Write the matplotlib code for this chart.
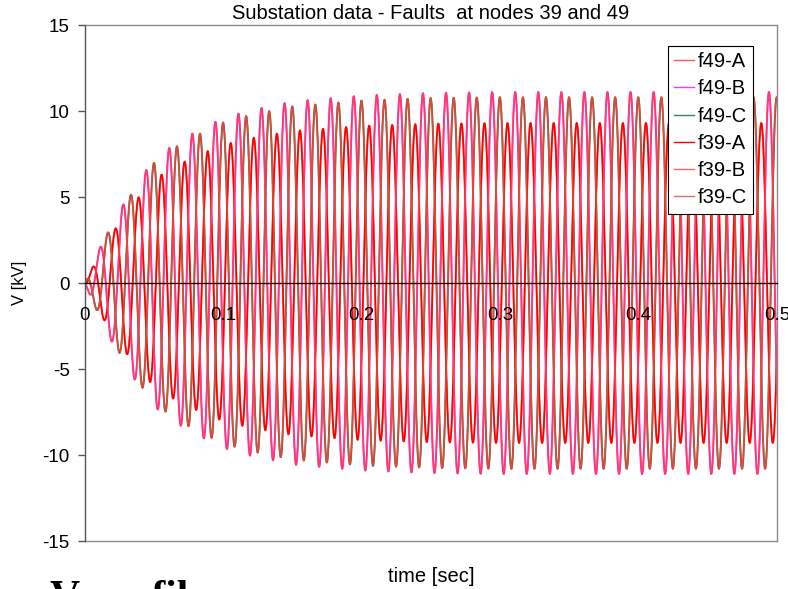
import numpy as np
import matplotlib
matplotlib.use("Agg")
import matplotlib.pyplot as plt

plt.rcParams["font.family"] = ["Liberation Sans", "DejaVu Sans"]

# values
env_time = [0.0, 0.005, 0.010, 0.015, 0.020, 0.030, 0.040, 0.050, 0.065,
            0.080, 0.100, 0.120, 0.150, 0.200, 0.250, 0.300, 0.500]
env_kv = [0.0, 1.0, 1.9, 2.8, 3.5, 4.9, 6.1, 7.2, 8.1,
          8.8, 9.6, 10.05, 10.55, 10.9, 11.05, 11.1, 11.1]
peak_kv = {"A": 9.3, "B": 11.1, "C": 10.8}      # steady state peak per phase
phase_deg = {"A": 0.0, "B": -120.0, "C": 120.0}
freq_hz = 60.0
first_peak_s = 0.0053                            # first peak of phase A

series_names = ["f49-A", "f49-B", "f49-C", "f39-A", "f39-B", "f39-C"]
series_colors = ["#f25f5c", "#ff33ff", "#2e8b57", "#ff0000", "#ff3d5e", "#e8443a"]
series_lw = [1.4, 1.4, 1.4, 1.15, 1.15, 1.15]
legend_colors = ["#f25f5c", "#ff33ff", "#2e8b57", "#ff0000", "#f06868", "#e06a66"]

x_ticks = [0, 0.1, 0.2, 0.3, 0.4, 0.5]
x_tick_labels = ["0", "0.1", "0.2", "0.3", "0.4", "0.5"]
y_ticks = [-15, -10, -5, 0, 5, 10, 15]

t = np.arange(0, 0.5 + 1e-9, 0.0001)
env = np.interp(t, env_time, env_kv) / max(env_kv)

fig = plt.figure(figsize=(7.88, 5.89), dpi=100)
ax = fig.add_axes([85 / 788, 48 / 589, 692 / 788, 516 / 589])
ax.set_axisbelow(False)

for name, col, lw in zip(series_names, series_colors, series_lw):
    ph = name[-1]
    v = env * peak_kv[ph] * np.cos(2 * np.pi * freq_hz * (t - first_peak_s)
                                   + np.deg2rad(phase_deg[ph]))
    ax.plot(t, v, color=col, lw=lw, label=name, solid_joinstyle="round")

ax.set_xlim(0, 0.5)
ax.set_ylim(-15, 15)

# frame
for s in ["top", "right"]:
    ax.spines[s].set_color("#8c8c8c")
    ax.spines[s].set_linewidth(1)
ax.spines["left"].set_color("#555555")
ax.spines["left"].set_linewidth(1)
ax.spines["bottom"].set_position(("data", 0))
ax.spines["bottom"].set_color("black")
ax.spines["bottom"].set_linewidth(1)
ax.spines["bottom"].set_zorder(5)
ax.axhline(-15, color="#8c8c8c", lw=1, clip_on=False)

ax.set_yticks(y_ticks)
ax.set_yticklabels([str(v) for v in y_ticks])
ax.tick_params(axis="y", direction="out", length=5, width=1, color="#555555",
               pad=6, labelsize=13.5)
ax.set_xticks(x_ticks)
ax.set_xticklabels(x_tick_labels)
ax.tick_params(axis="x", length=0, pad=17, labelsize=13.5)

ax.set_title("Substation data - Faults  at nodes 39 and 49", fontsize=14.5, pad=4)
ax.text(0.5, -0.068, "time [sec]", transform=ax.transAxes, ha="center",
        va="center", fontsize=14.5)
ax.text(-0.094, 0.5, "V [kV]", transform=ax.transAxes, ha="center",
        va="center", rotation=90, fontsize=12)

leg = ax.legend(loc="upper right", bbox_to_anchor=(0.965, 0.959),
                borderaxespad=0, fontsize=14.5, frameon=True, fancybox=False,
                edgecolor="black", framealpha=1, handlelength=1.0,
                handletextpad=0.15, labelspacing=0.41, borderpad=0.3)
leg.get_frame().set_linewidth(0.8)
for h, c in zip(leg.get_lines(), legend_colors):
    h.set_linewidth(1.0)
    h.set_color(c)

# heading of the page below the chart, cut by the image edge
fig.text(50 / 788, -0.034, "V profile", fontsize=30, fontweight="bold",
         family=["Liberation Serif", "DejaVu Serif"], va="baseline", ha="left")

fig.savefig("out.png", dpi=100)
